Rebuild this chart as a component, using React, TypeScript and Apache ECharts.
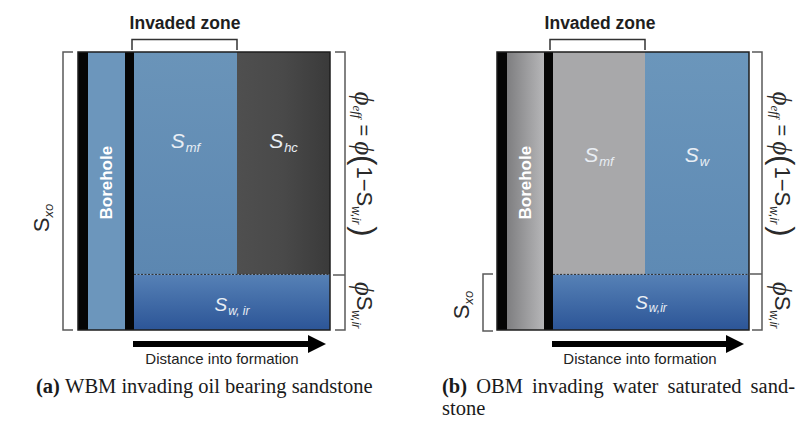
import React, { useEffect, useRef } from 'react';
import * as echarts from 'echarts';

// ---------- DATA ----------
// x: distance units across the panel (0 = borehole wall), y: fraction of pore volume (0..1)
// Panel (a): WBM invading oil bearing sandstone
const zonesA = ['Mudcake', 'Borehole', 'Mudcake', 'Smf', 'Shc', 'Swir'];
const startA = [0, 10, 47, 56, 159, 56];
const endA = [10, 47, 56, 159, 252, 252];
const lowA = [0, 0, 0, 0.2, 0.2, 0];
const highA = [1, 1, 1, 1, 1, 0.2];
const labelMainA = ['', 'Borehole', '', 'S', 'S', 'S'];
const labelSubA = ['', '', '', 'mf', 'hc', 'w, ir'];
const labelYA = [0, 0.53, 0, 0.68, 0.68, 0.09];

// Panel (b): OBM invading water saturated sandstone
const zonesB = ['Mudcake', 'BoreholeOBM', 'Mudcake', 'SmfOBM', 'Sw', 'Swir'];
const startB = [0, 10, 47, 56, 148, 56];
const endB = [10, 47, 56, 148, 252, 252];
const lowB = [0, 0, 0, 0.2, 0.2, 0];
const highB = [1, 1, 1, 1, 1, 0.2];
const labelMainB = ['', 'Borehole', '', 'S', 'S', 'S'];
const labelSubB = ['', '', '', 'mf', 'w', 'w,ir'];
const labelYB = [0, 0.53, 0, 0.63, 0.63, 0.1];

const titleText = 'Invaded zone';
const axisText = 'Distance into formation';
const captionA = ['(a)', 'WBM', 'invading', 'oil', 'bearing', 'sandstone'];
const captionB = ['(b)', 'OBM', 'invading', 'water', 'saturated', 'sand-'];
const captionB2 = 'stone';

// ---------- HELPERS ----------
const SANS = '"Liberation Sans", Arial, sans-serif';
const SERIF = '"Liberation Serif", "Times New Roman", serif';

let measureCtx: CanvasRenderingContext2D | null = null;
function tw(text: string, font: string): number {
  if (!measureCtx) measureCtx = document.createElement('canvas').getContext('2d');
  if (!measureCtx) return text.length * 8;
  measureCtx.font = font;
  return measureCtx.measureText(text).width;
}

type Tok = { t: string; font: string; dy?: number; gap?: number };
function seq(toks: Tok[], fill: string, center = true, z = 10): any[] {
  let x = 0;
  const items: any[] = toks.map((k) => {
    x += k.gap || 0;
    const el = {
      type: 'text',
      x,
      y: k.dy || 0,
      z,
      style: { text: k.t, font: k.font, fill, align: 'left', verticalAlign: 'middle', textAlign: 'left', textVerticalAlign: 'middle' },
    };
    x += tw(k.t, k.font);
    return el;
  });
  if (center) items.forEach((e) => (e.x -= x / 2));
  return items;
}

// words laid out with first word bold; if width given, the line is justified to it
function captionLine(words: string[], font: string, boldFont: string, width?: number): Tok[] {
  const widths = words.map((w, i) => tw(w, i === 0 ? boldFont : font));
  const natSpace = tw(' ', font);
  const total = widths.reduce((a, b) => a + b, 0);
  const space = width ? (width - total) / (words.length - 1) : natSpace;
  return words.map((w, i) => ({ t: w, font: i === 0 ? boldFont : font, gap: i === 0 ? 0 : space }));
}

function grad(vertical: boolean, stops: string[]) {
  return new echarts.graphic.LinearGradient(0, 0, vertical ? 0 : 1, vertical ? 1 : 0,
    stops.map((c, i) => ({ offset: i / (stops.length - 1), color: c })));
}

const palette: Record<string, any> = {
  Mudcake: '#050505',
  Borehole: '#6c96bc',
  Smf: grad(true, ['#6a94b9', '#5c87b1']),
  Shc: grad(false, ['#4f4f4f', '#494949', '#3a3a3a']),
  Swir: grad(true, ['#5681b6', '#2c5597']),
  BoreholeOBM: grad(false, ['#7e7e80', '#b6b6b8']),
  SmfOBM: '#a8a8aa',
  Sw: grad(true, ['#6b96bb', '#5e8ab4']),
};

function panelSeries(idx: number, zones: string[], start: number[], end: number[], low: number[], high: number[],
  main: string[], sub: string[], labY: number[]) {
  return {
    type: 'custom',
    xAxisIndex: idx,
    yAxisIndex: idx,
    silent: true,
    clip: false,
    data: zones.map((_, i) => [start[i], end[i], low[i], high[i], labY[i]]),
    encode: { x: [0, 1], y: [2, 3] },
    renderItem: (params: any, api: any) => {
      const i = params.dataIndex;
      const zone = zones[i];
      const tl = api.coord([api.value(0), api.value(3)]);
      const br = api.coord([api.value(1), api.value(2)]);
      const kids: any[] = [{
        type: 'rect',
        shape: { x: tl[0], y: tl[1], width: br[0] - tl[0], height: br[1] - tl[1] },
        style: { fill: palette[zone] },
      }];
      if (zone === 'Swir') {
        kids.push({
          type: 'line',
          shape: { x1: tl[0], y1: tl[1], x2: br[0], y2: tl[1] },
          style: { stroke: '#2a2a2a', lineWidth: 1, lineDash: [2, 1.5] },
        });
      }
      const lp = api.coord([(api.value(0) + api.value(1)) / 2, api.value(4)]);
      if (zone.indexOf('Borehole') === 0) {
        kids.push({
          type: 'text', x: lp[0], y: lp[1], rotation: Math.PI / 2,
          style: { text: main[i], font: 'bold 17px ' + SANS, fill: '#ffffff', align: 'center', verticalAlign: 'middle' },
        });
      } else if (main[i]) {
        const small = zone === 'Swir';
        const fS = 'italic ' + (small ? 19 : 21) + 'px ' + SANS;
        const fSub = 'italic ' + (small ? 12 : 13) + 'px ' + SANS;
        const wS = tw(main[i], fS);
        const wSub = tw(sub[i], fSub);
        const x0 = lp[0] - (wS + wSub + 1) / 2;
        kids.push({ type: 'text', x: x0, y: lp[1], style: { text: main[i], font: fS, fill: '#e9eef4', align: 'left', verticalAlign: 'middle' } });
        kids.push({ type: 'text', x: x0 + wS + 1, y: lp[1] + (small ? 6 : 7), style: { text: sub[i], font: fSub, fill: '#e9eef4', align: 'left', verticalAlign: 'middle' } });
      }
      return { type: 'group', children: kids };
    },
  };
}

function buildGraphic(): any[] {
  const g: any[] = [];
  const ink = '#2b2b2b';
  const brk = '#5a5a5a';
  const poly = (pts: number[][], stroke = brk, lw = 1.5) => g.push({ type: 'polyline', z: 10, shape: { points: pts }, style: { stroke, lineWidth: lw, fill: 'none' } });
  const txt = (x: number, y: number, text: string, font: string, fill = ink) =>
    g.push({ type: 'text', z: 10, x, y, style: { text, font, fill, align: 'center', verticalAlign: 'middle' } });

  // frames
  [[78, 52], [497, 52]].forEach(([x, y]) => g.push({ type: 'rect', z: 10, shape: { x, y, width: 252, height: 278 }, style: { fill: 'none', stroke: '#1e1e1e', lineWidth: 1.5 } }));

  // Invaded zone titles and brackets
  txt(185, 23, titleText, 'bold 17.5px ' + SANS, '#1e1e1e');
  txt(600, 23, titleText, 'bold 17.5px ' + SANS, '#1e1e1e');
  poly([[132, 50], [132, 39.5], [237, 39.5], [237, 50]], '#333');
  poly([[550, 50], [550, 39.5], [645, 39.5], [645, 50]], '#333');

  // left brackets
  poly([[73, 52], [63, 52], [63, 330], [73, 330]]);
  poly([[493, 274], [483, 274], [483, 331], [493, 331]]);
  // right brackets
  poly([[335, 52], [345, 52], [345, 330], [335, 330]]);
  poly([[333, 275], [345, 275]]);
  poly([[752, 52], [762, 52], [762, 330], [752, 330]]);
  poly([[750, 274], [762, 274]]);

  // arrows
  const arrow = (x0: number, x1: number, y: number) => {
    g.push({ type: 'line', z: 10, shape: { x1: x0, y1: y, x2: x1 - 14, y2: y }, style: { stroke: '#000', lineWidth: 6 } });
    g.push({ type: 'polygon', z: 10, shape: { points: [[x1 - 18, y - 9], [x1, y], [x1 - 18, y + 9]] }, style: { fill: '#000' } });
  };
  arrow(133, 326, 344);
  arrow(552, 744, 344);
  txt(222, 358, axisText, '15px ' + SANS, '#222');
  txt(640, 358, axisText, '15px ' + SANS, '#222');

  // rotated labels
  const phiF = 'italic 27px ' + SERIF;
  const formula: Tok[] = [
    { t: 'ϕ', font: phiF },
    { t: 'eff', font: 'italic 13px ' + SERIF, dy: 7 },
    { t: '=', font: '20px ' + SANS, gap: 6 },
    { t: 'ϕ', font: phiF, gap: 5 },
    { t: '(', font: '31px ' + SANS },
    { t: '1−S', font: '22px ' + SANS, gap: 1 },
    { t: 'w,ir', font: 'italic 12px ' + SANS, dy: 8 },
    { t: ')', font: '31px ' + SANS, gap: 2 },
  ];
  const phiS: Tok[] = [
    { t: 'ϕ', font: phiF },
    { t: 'S', font: '22px ' + SANS },
    { t: 'w,ir', font: 'italic 12px ' + SANS, dy: 8 },
  ];
  const sxo: Tok[] = [
    { t: 'S', font: '22px ' + SANS },
    { t: 'xo', font: 'italic 13px ' + SANS, dy: 7 },
  ];
  const grp = (x: number, y: number, rot: number, toks: Tok[]) =>
    g.push({ type: 'group', x, y, rotation: rot, children: seq(toks, '#2a2a2a') });
  grp(364, 164, -Math.PI / 2, formula);
  grp(364, 305, -Math.PI / 2, phiS);
  grp(782, 164, -Math.PI / 2, formula);
  grp(782, 305, -Math.PI / 2, phiS);
  grp(41, 218, Math.PI / 2, sxo);
  grp(461, 305, Math.PI / 2, sxo);

  // captions
  const capF = '20.5px ' + SERIF;
  const capB = 'bold 20.5px ' + SERIF;
  g.push({ type: 'group', x: 36, y: 386, children: seq(captionLine(captionA, capF, capB), '#1a1a1a', false) });
  g.push({ type: 'group', x: 442, y: 386, children: seq(captionLine(captionB, capF, capB, 353), '#1a1a1a', false) });
  g.push({ type: 'group', x: 442, y: 408, children: seq([{ t: captionB2, font: capF }], '#1a1a1a', false) });
  return g;
}

function buildOption(): any {
  const axisX = (i: number) => ({ type: 'value', gridIndex: i, min: 0, max: 252, show: false });
  const axisY = (i: number) => ({ type: 'value', gridIndex: i, min: 0, max: 1, show: false });
  return {
    animation: false,
    backgroundColor: '#ffffff',
    grid: [
      { left: 78, top: 52, width: 252, height: 278 },
      { left: 497, top: 52, width: 252, height: 278 },
    ],
    xAxis: [axisX(0), axisX(1)],
    yAxis: [axisY(0), axisY(1)],
    series: [
      panelSeries(0, zonesA, startA, endA, lowA, highA, labelMainA, labelSubA, labelYA),
      panelSeries(1, zonesB, startB, endB, lowB, highB, labelMainB, labelSubB, labelYB),
    ],
    graphic: buildGraphic(),
  };
}

export default function App() {
  const ref = useRef<HTMLDivElement>(null);
  useEffect(() => {
    document.body.style.margin = '0';
    if (!ref.current) return;
    const chart = echarts.init(ref.current, null, { renderer: 'svg' });
    chart.setOption(buildOption());
    return () => chart.dispose();
  }, []);
  return <div ref={ref} style={{ width: 808, height: 423 }} />;
}
